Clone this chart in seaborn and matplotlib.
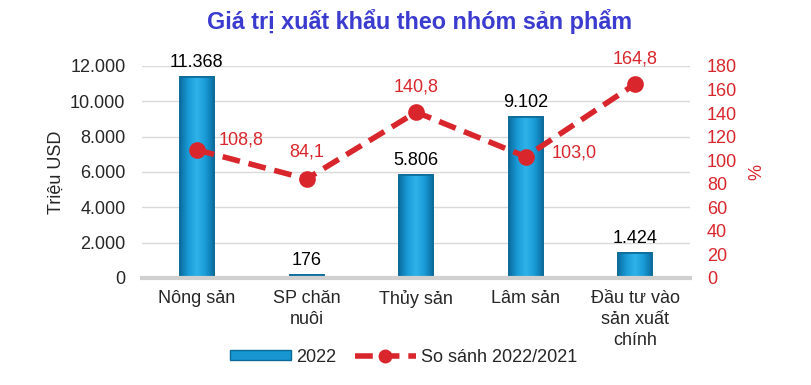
import matplotlib
matplotlib.use("Agg")
import matplotlib.pyplot as plt
import seaborn as sns
import pandas as pd
import numpy as np
from matplotlib.lines import Line2D
from matplotlib.patches import Patch
from matplotlib.colors import LinearSegmentedColormap

categories = ["Nông sản", "SP chăn\nnuôi", "Thủy sản", "Lâm sản", "Đầu tư vào\nsản xuất\nchính"]
values_2022 = [11368, 176, 5806, 9102, 1424]
bar_labels = ["11.368", "176", "5.806", "9.102", "1.424"]
ratio = [108.8, 84.1, 140.8, 103.0, 164.8]
ratio_labels = ["108,8", "84,1", "140,8", "103,0", "164,8"]
left_ticks = [0, 2000, 4000, 6000, 8000, 10000, 12000]
left_tick_labels = ["0", "2.000", "4.000", "6.000", "8.000", "10.000", "12.000"]
right_ticks = list(range(0, 181, 20))

sns.set_theme(style="white")
plt.rcParams["font.family"] = ["Liberation Sans", "DejaVu Sans"]

BLUE = "#1796d2"
EDGE = "#0b6a98"
RED = "#d9262c"
TITLE = "#3b3bd0"

df = pd.DataFrame({"cat": categories, "v": values_2022, "r": ratio})

fig = plt.figure(figsize=(8.12, 3.85), dpi=100)
ax = fig.add_axes([0.175, 0.278, 0.675, 0.5506])
sns.barplot(data=df, x="cat", y="v", ax=ax, color=BLUE, width=0.31,
            edgecolor=EDGE, linewidth=1.2, saturation=1)
ax.set_ylim(0, 12000)
ax.set_xlim(-0.5, 4.5)

# bevel-like horizontal gradient inside each bar
cmap = LinearSegmentedColormap.from_list("bev", ["#0c6fa3", "#1a9cd8", "#2fb2ea", "#1a9cd8", "#0c6fa3"])
grad = np.linspace(0, 1, 64).reshape(1, -1)
for p in list(ax.patches):
    x0, y0, w, h = p.get_x(), p.get_y(), p.get_width(), p.get_height()
    im = ax.imshow(grad, cmap=cmap, aspect="auto", extent=(x0, x0 + w, y0, y0 + h),
                   zorder=p.get_zorder() + 0.1)
    im.set_clip_path(p)
    ax.add_patch(plt.Rectangle((x0, y0), w, h, fill=False, edgecolor=EDGE,
                               linewidth=1.2, zorder=p.get_zorder() + 0.2))
ax.set_xlim(-0.5, 4.5)
ax.set_ylim(0, 12000)

ax.set_yticks(left_ticks)
ax.set_yticklabels(left_tick_labels, fontsize=13)
ax.yaxis.grid(True, color="#d9d9d9", linewidth=1)
ax.set_axisbelow(True)
for s in ["top", "right", "left"]:
    ax.spines[s].set_visible(False)
ax.spines["bottom"].set_color("#d0d0d0")
ax.spines["bottom"].set_linewidth(3)
ax.tick_params(axis="x", length=0, labelsize=13, pad=9)
ax.tick_params(axis="y", length=0, pad=12)
ax.set_xlabel("")
ax.set_ylabel("Triệu USD", fontsize=13, labelpad=4)
for lbl in ax.get_xticklabels():
    lbl.set_linespacing(1.3)
    lbl.set_verticalalignment("top")

for i, (v, t) in enumerate(zip(values_2022, bar_labels)):
    ax.text(i, v + 350, t, ha="center", va="bottom", fontsize=13, color="black")

ax2 = ax.twinx()
sns.pointplot(data=df, x="cat", y="r", ax=ax2, color=RED, linestyles="--",
              markers="o", markersize=9, linewidth=4)
for l in ax2.lines:
    l.set_dashes([3.2, 1.6])
ax2.set_ylim(0, 180)
ax2.set_xlim(-0.5, 4.5)
ax2.set_yticks(right_ticks)
ax2.tick_params(axis="y", colors=RED, labelsize=13, length=0, pad=12)
ax2.set_ylabel("%", color=RED, fontsize=13, labelpad=8)
ax2.set_xlabel("")
for s in ax2.spines.values():
    s.set_visible(False)

offsets = [(0.2, 8, "left", "center"), (0, 16, "center", "bottom"),
           (0, 14, "center", "bottom"), (0.24, 3, "left", "center"),
           (0, 14, "center", "bottom")]
for i, (r, t) in enumerate(zip(ratio, ratio_labels)):
    dx, dy, ha, va = offsets[i]
    ax2.text(i + dx, r + dy, t, ha=ha, va=va, fontsize=13, color=RED)

fig.text(0.517, 0.945, "Giá trị xuất khẩu theo nhóm sản phẩm", ha="center", va="center",
         fontsize=16.8, fontweight="bold", color=TITLE)

handles = [Patch(facecolor=BLUE, edgecolor=EDGE),
           Line2D([0], [0], color=RED, linestyle=(0, (3.2, 1.6)), linewidth=4,
                  marker="o", markersize=9)]
fig.legend(handles, ["2022", "So sánh 2022/2021"], loc="center", ncol=2,
           bbox_to_anchor=(0.497, 0.072), frameon=False, fontsize=13,
           handlelength=3.4, handleheight=0.45, columnspacing=1.0, handletextpad=0.3)

fig.savefig("out.png", dpi=100)
